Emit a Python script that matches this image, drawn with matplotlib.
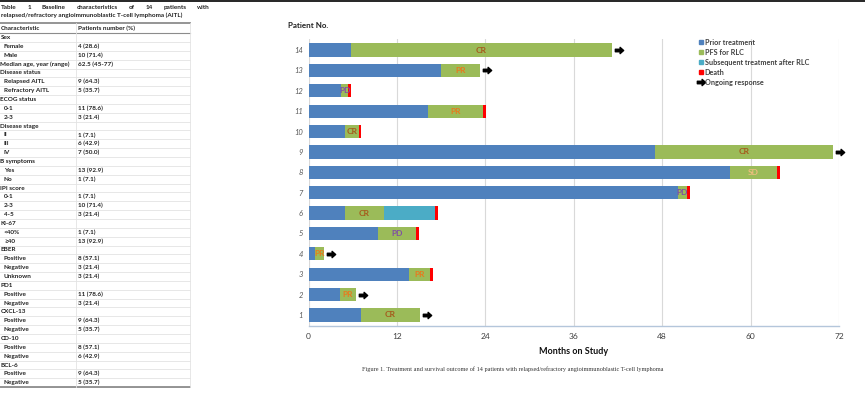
import matplotlib
matplotlib.use('Agg')

import matplotlib.pyplot as plt
import numpy as np
from matplotlib.path import Path
from matplotlib.lines import Line2D

plt.rcParams['font.family'] = ['Lato', 'DejaVu Sans']

# ---- 表格数据 ----
table_title = ['Table 1 Baseline characteristics of 14 patients with',
               'relapsed/refractory angioimmunoblastic T-cell lymphoma (AITL)']
table_header = ['Characteristic', 'Patients number (%)']
table_labels = ['Sex', '  Female', '  Male', 'Median age, year (range)', 'Disease status',
                '  Relapsed AITL', '  Refractory AITL', 'ECOG status', '  0-1', '  2-3',
                'Disease stage', '  II', '  III', '  IV', 'B symptoms', '  Yes', '  No',
                'IPI score', '  0-1', '  2-3', '  4-5', 'Ki-67', '  <40%', '  ≥40', 'EBER',
                '  Positive', '  Negative', '  Unknown', 'PD1', '  Positive', '  Negative',
                'CXCL-13', '  Positive', '  Negative', 'CD-10', '  Positive', '  Negative',
                'BCL-6', '  Positive', '  Negative']
table_values = ['', '4 (28.6)', '10 (71.4)', '62.5 (45-77)', '', '9 (64.3)', '5 (35.7)', '',
                '11 (78.6)', '3 (21.4)', '', '1 (7.1)', '6 (42.9)', '7 (50.0)', '', '13 (92.9)',
                '1 (7.1)', '', '1 (7.1)', '10 (71.4)', '3 (21.4)', '', '1 (7.1)', '13 (92.9)', '',
                '8 (57.1)', '3 (21.4)', '3 (21.4)', '', '11 (78.6)', '3 (21.4)', '', '9 (64.3)',
                '5 (35.7)', '', '8 (57.1)', '6 (42.9)', '', '9 (64.3)', '5 (35.7)']

# ---- 泳道图数据 (月), 患者 1..14 ----
patients = np.arange(1, 15)
prior = np.array([7.1, 4.2, 13.6, 0.9, 9.4, 4.9, 50.1, 57.2, 47.0, 5.0, 16.2, 4.4, 18.0, 5.7])
pfs = np.array([8.0, 2.3, 2.9, 1.2, 5.2, 5.4, 1.3, 6.4, 24.2, 1.8, 7.5, 1.0, 5.2, 35.5])
subsequent = np.array([0, 0, 0, 0, 0, 6.9, 0, 0, 0, 0, 0, 0, 0, 0])
death = np.array([0, 0, 1, 0, 1, 1, 1, 1, 0, 1, 1, 1, 0, 0], dtype=bool)
ongoing = np.array([1, 1, 0, 1, 0, 0, 0, 0, 1, 0, 0, 0, 1, 1], dtype=bool)
response = ['CR', 'PR', 'PR', 'PR', 'PD', 'CR', 'PD', 'SD', 'CR', 'CR', 'PR', 'PD', 'PR', 'CR']

resp_colors = {'CR': '#A5591B', 'PR': '#E8791E', 'PD': '#7F4FA3', 'SD': '#EDBE7E'}
c_prior, c_pfs, c_sub, c_death = '#4F81BD', '#9BBB59', '#4BACC6', '#FF0000'

W, H = 865, 415
fig = plt.figure(figsize=(W / 100, H / 100), dpi=100)

# 背景坐标轴 (像素坐标), 用于表格和图注
bg = fig.add_axes([0, 0, 1, 1])
bg.set_xlim(0, W)
bg.set_ylim(H, 0)
bg.axis('off')

bg.plot([0, W], [0.6, 0.6], color='black', lw=1.2)

# 标题两端对齐
tfont = dict(fontsize=4.6, fontweight='bold', color='#222222', va='center')
renderer = fig.canvas.get_renderer()
words = table_title[0].split()
wtexts = [bg.text(0, 7.5, w, ha='left', **tfont) for w in words]
widths = [t.get_window_extent(renderer).width for t in wtexts]
gap = (210 - 1 - sum(widths)) / (len(words) - 1)
x = 1
for t, w in zip(wtexts, widths):
    t.set_x(x)
    x += w + gap
bg.text(1, 15.5, table_title[1], ha='left', **tfont)

y0, dy = 28.7, 8.85
col2 = 78
bg.text(1, y0, table_header[0], ha='left', **tfont)
bg.text(col2, y0, table_header[1], ha='left', **tfont)
for i, (lab, val) in enumerate(zip(table_labels, table_values)):
    yy = y0 + dy * (i + 1)
    indent = lab.startswith('  ')
    bg.text(4 if indent else 0.5, yy, lab.strip(), ha='left', **tfont)
    if val:
        bg.text(col2, yy, val, ha='left', **tfont)
    bg.plot([0, 190], [yy + dy / 2, yy + dy / 2], color='#E3E3E3', lw=0.6)
top_line = y0 - dy / 2 - 1
bg.plot([0, 190], [top_line, top_line], color='#8C8C8C', lw=1.3)
bg.plot([0, 190], [y0 + dy / 2, y0 + dy / 2], color='#8C8C8C', lw=0.8)
bottom_line = y0 + dy * (len(table_labels) + 0.5)
bg.plot([0, 190], [bottom_line, bottom_line], color='#8C8C8C', lw=1.3)
bg.plot([76, 76], [top_line, bottom_line], color='#E3E3E3', lw=0.6)
bg.plot([190, 190], [top_line, bottom_line], color='#E3E3E3', lw=0.6)

# 图注
bg.text(361.5, 369, 'Figure 1. Treatment and survival outcome of 14 patients with '
        'relapsed/refractory angioimmunoblastic T-cell lymphoma',
        family='Liberation Serif', fontsize=4.5, color='#333333', va='center', ha='left')

# ---- 泳道图 ----
ax = fig.add_axes([308.6 / W, 1 - 326 / H, (839 - 308.6) / W, (326 - 39) / H])
bh = 0.65
ax.barh(patients, prior, height=bh, color=c_prior, lw=0)
ax.barh(patients, pfs, left=prior, height=bh, color=c_pfs, lw=0)
ax.barh(patients, subsequent, left=prior + pfs, height=bh, color=c_sub, lw=0)
end = prior + pfs + subsequent
ax.barh(patients[death], 0.35, left=end[death], height=bh, color=c_death, lw=0)

for p, st, w, r in zip(patients, prior, pfs, response):
    ax.text(st + w / 2, p, r, ha='center', va='center', fontsize=6,
            fontweight='bold', color=resp_colors[r])

arrow = Path([(-1, -0.3), (0.15, -0.3), (0.15, -0.75), (1, 0), (0.15, 0.75),
              (0.15, 0.3), (-1, 0.3), (-1, -0.3)],
             [Path.MOVETO] + [Path.LINETO] * 6 + [Path.CLOSEPOLY])
ax.plot(end[ongoing] + 0.95, patients[ongoing], marker=arrow, ms=6, color='black',
        ls='none', clip_on=False)

ax.set_xlim(0, 72)
ax.set_ylim(0.46, 14.54)
ax.set_xticks(range(0, 73, 12))
ax.set_yticks(patients)
ax.set_yticklabels([str(p) for p in patients])
for lbl in ax.get_yticklabels():
    lbl.set_style('italic')
ax.xaxis.grid(True, color='#D9D9D9', lw=0.8)
ax.set_axisbelow(True)
for s in ['top', 'right', 'left']:
    ax.spines[s].set_visible(False)
ax.spines['bottom'].set_color('#B4C6DB')
ax.spines['bottom'].set_linewidth(1.0)
ax.tick_params(axis='x', length=0, labelsize=6, labelcolor='#404040', pad=5)
ax.tick_params(axis='y', length=0, labelsize=5.5, labelcolor='#595959', pad=4)
ax.set_xlabel('Months on Study', fontsize=6.5, fontweight='bold', color='#111111', labelpad=5)

fig.text(288 / W, 1 - 25 / H, 'Patient No.', fontsize=5.8, fontweight='bold',
         color='#222222', ha='left', va='center')

# 图例
handles = [Line2D([], [], marker='s', ls='none', color=c, ms=3.2) for c in
           [c_prior, c_pfs, c_sub, c_death]]
handles.append(Line2D([], [], marker=arrow, ls='none', color='black', ms=6))
labels = ['Prior treatment', 'PFS for RLC', 'Subsequent treatment after RLC', 'Death',
          'Ongoing response']
leg = ax.legend(handles, labels, loc='upper left', bbox_to_anchor=(694 / W, 1 - 35 / H),
                bbox_transform=fig.transFigure, frameon=False, fontsize=5.2,
                handlelength=0.8, handletextpad=0.2, labelspacing=0.42, borderpad=0)
for t in leg.get_texts():
    t.set_color('#404040')
    t.set_fontweight('bold')

fig.savefig('out.png', dpi=100)
